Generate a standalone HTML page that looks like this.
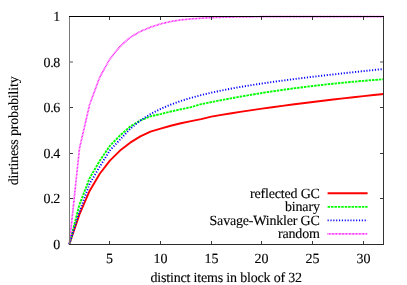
<!DOCTYPE html>
<html><head><meta charset="utf-8"><style>
html,body{margin:0;padding:0;background:#fff;}
svg{display:block;}
text{font-family:"Liberation Serif",serif;font-size:14px;fill:#000;stroke:#000;stroke-width:0.12px;filter:grayscale(1);text-rendering:geometricPrecision;}
</style></head><body>
<svg width="407" height="285" viewBox="0 0 407 285">
<rect x="0" y="0" width="407" height="285" fill="#fff"/>
<text x="60.3" y="248.90" text-anchor="end">0</text>
<text x="60.3" y="202.90" text-anchor="end" textLength="16.7">0.2</text>
<text x="60.3" y="157.90" text-anchor="end" textLength="16.7">0.4</text>
<text x="60.3" y="111.90" text-anchor="end" textLength="16.7">0.6</text>
<text x="60.3" y="66.90" text-anchor="end" textLength="16.7">0.8</text>
<text x="60.3" y="20.90" text-anchor="end">1</text>
<text x="109.50" y="262.5" text-anchor="middle">5</text>
<text x="160.50" y="262.5" text-anchor="middle">10</text>
<text x="211.50" y="262.5" text-anchor="middle">15</text>
<text x="261.50" y="262.5" text-anchor="middle">20</text>
<text x="312.50" y="262.5" text-anchor="middle">25</text>
<text x="363.50" y="262.5" text-anchor="middle">30</text>
<text x="226.3" y="281.7" text-anchor="middle" textLength="151.6">distinct items in block of 32</text>
<text transform="translate(18,130.8) rotate(-90)" text-anchor="middle" textLength="109">dirtiness probability</text>
<polyline points="69.30,244.30 79.45,214.33 89.59,190.95 99.74,173.71 109.88,160.67 120.03,150.56 130.17,142.63 140.32,136.42 150.46,131.63 160.61,128.65 170.75,125.74 180.90,123.28 191.04,121.11 201.19,119.16 211.33,116.63 221.48,114.88 231.62,113.21 241.77,111.62 251.91,110.09 262.06,108.61 272.20,107.20 282.35,105.84 292.49,104.49 302.64,103.22 312.78,101.96 322.93,100.74 333.07,99.53 343.22,98.37 353.36,97.23 363.51,96.11 373.65,95.02 383.80,93.95" fill="none" stroke="#ff0000" stroke-width="1.9" stroke-linejoin="round"/>
<polyline points="69.30,244.30 79.45,204.52 89.59,178.24 99.74,160.71 109.88,145.87 120.03,135.48 130.17,126.62 140.32,120.52 150.46,116.31 160.61,114.08 170.75,111.53 180.90,109.30 191.04,107.16 201.19,104.15 211.33,102.10 221.48,100.12 231.62,98.21 241.77,96.39 251.91,94.66 262.06,92.99 272.20,91.42 282.35,89.94 292.49,88.55 302.64,87.23 312.78,85.98 322.93,84.82 333.07,83.73 343.22,82.70 353.36,81.74 363.51,80.83 373.65,80.01 383.80,79.22" fill="none" stroke="#00ff00" stroke-width="1.9" stroke-dasharray="2.5 0.92"/>
<polyline points="69.30,244.30 79.45,211.83 89.59,183.82 99.74,166.63 109.88,150.42 120.03,139.56 130.17,128.79 140.32,120.55 150.46,114.10 160.61,108.89 170.75,104.56 180.90,100.94 191.04,97.82 201.19,95.09 211.33,92.67 221.48,90.51 231.62,88.53 241.77,86.73 251.91,85.05 262.06,83.50 272.20,82.02 282.35,80.63 292.49,79.29 302.64,78.01 312.78,76.78 322.93,75.60 333.07,74.44 343.22,73.30 353.36,72.20 363.51,71.11 373.65,70.04 383.80,68.99" fill="none" stroke="#0000ff" stroke-width="1.9" stroke-dasharray="1.14 1.71"/>
<polyline points="69.30,244.30 79.45,148.67 89.59,104.72 99.74,77.17 109.88,59.07 120.03,46.29 130.17,37.41 140.32,31.51 150.46,27.19 160.61,23.89 170.75,21.50 180.90,19.90 191.04,18.88 201.19,18.19 211.33,17.62 221.48,17.28 231.62,17.06 241.77,16.90 251.91,16.78 262.06,16.71 272.20,16.65 282.35,16.65 292.49,16.65 302.64,16.65 312.78,16.65 322.93,16.65 333.07,16.65 343.22,16.65 353.36,16.65 363.51,16.65 373.65,16.65 383.80,16.65" fill="none" stroke="#ff00ff" stroke-width="1.7" stroke-dasharray="0.78 0.645"/>
<text x="319.9" y="197.60" text-anchor="end" textLength="69.8">reflected GC</text>
<path d="M327.60 193.30H367.60" stroke="#ff0000" stroke-width="1.9"  fill="none"/>
<text x="319.9" y="211.15" text-anchor="end" textLength="34.9">binary</text>
<path d="M327.60 206.85H367.60" stroke="#00ff00" stroke-width="1.9" stroke-dasharray="2.5 0.92" fill="none"/>
<text x="319.9" y="224.70" text-anchor="end" textLength="110.4">Savage-Winkler GC</text>
<path d="M327.60 220.40H367.60" stroke="#0000ff" stroke-width="1.9" stroke-dasharray="1.14 1.71" fill="none"/>
<text x="319.9" y="238.25" text-anchor="end" textLength="41.9">random</text>
<path d="M327.60 233.95H367.60" stroke="#ff00ff" stroke-width="1.8" stroke-dasharray="0.78 0.645" fill="none"/>
<g shape-rendering="crispEdges"><rect x="69" y="16" width="315" height="1" fill="#000"/><rect x="69" y="244" width="315" height="1" fill="#2b2b2b"/><rect x="69" y="17" width="1" height="227" fill="#7a7a7a"/><rect x="383" y="17" width="1" height="227" fill="#333"/><rect x="70" y="198" width="3" height="1" fill="#3a3a3a"/><rect x="380" y="198" width="3" height="1" fill="#3a3a3a"/><rect x="70" y="153" width="3" height="1" fill="#3a3a3a"/><rect x="380" y="153" width="3" height="1" fill="#3a3a3a"/><rect x="70" y="107" width="3" height="1" fill="#3a3a3a"/><rect x="380" y="107" width="3" height="1" fill="#3a3a3a"/><rect x="70" y="61" width="3" height="2" fill="#aaa"/><rect x="380" y="61" width="3" height="2" fill="#aaa"/><rect x="109" y="241" width="1" height="3" fill="#3a3a3a"/><rect x="109" y="17" width="1" height="3" fill="#3a3a3a"/><rect x="160" y="241" width="1" height="3" fill="#3a3a3a"/><rect x="160" y="17" width="1" height="3" fill="#3a3a3a"/><rect x="211" y="241" width="1" height="3" fill="#3a3a3a"/><rect x="211" y="17" width="1" height="3" fill="#3a3a3a"/><rect x="261" y="241" width="1" height="3" fill="#3a3a3a"/><rect x="261" y="17" width="1" height="3" fill="#3a3a3a"/><rect x="312" y="241" width="1" height="3" fill="#3a3a3a"/><rect x="312" y="17" width="1" height="3" fill="#3a3a3a"/><rect x="363" y="241" width="1" height="3" fill="#3a3a3a"/><rect x="363" y="17" width="1" height="3" fill="#3a3a3a"/></g>
</svg>
</body></html>
